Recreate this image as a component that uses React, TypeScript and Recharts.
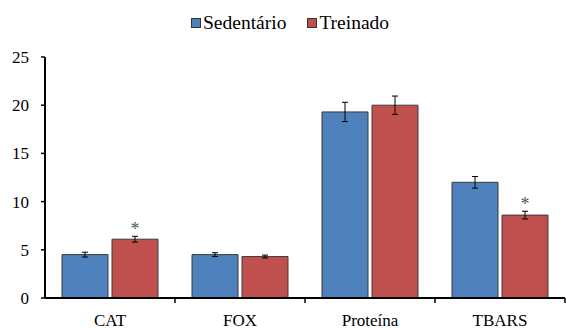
import { BarChart, Bar, XAxis, YAxis, ErrorBar, LabelList } from "recharts";

// values
const categories = ["CAT", "FOX", "Proteína", "TBARS"];
const sedentario = [4.5, 4.5, 19.3, 12.0];
const sedentarioErr = [0.25, 0.2, 1.0, 0.6];
const treinado = [6.1, 4.3, 20.0, 8.6];
const treinadoErr = [0.3, 0.15, 0.95, 0.4];
const significance = ["*", "", "", "*"];
const yTicks = [0, 5, 10, 15, 20, 25];

const BLUE = "#4F81BD";
const RED = "#C0504D";

const data = categories.map((name, i) => ({
  name,
  sedentario: sedentario[i],
  sedentarioErr: sedentarioErr[i],
  treinado: treinado[i],
  treinadoErr: treinadoErr[i],
  sig: significance[i],
}));

const CategoryTick = (props: any) => {
  const { x, y, payload } = props;
  const off = payload && payload.offset ? payload.offset : 65;
  return (
    <g>
      <text x={x} y={y + 28} textAnchor="middle" fontSize={17} fill="#000">
        {payload.value}
      </text>
      <line x1={x + off} y1={y} x2={x + off} y2={y + 5} stroke="#000" strokeWidth={1.5} />
    </g>
  );
};

const YTick = (props: any) => {
  const { x, y, payload } = props;
  return (
    <text x={x} y={y + 6} textAnchor="end" fontSize={17} fill="#000">
      {payload.value}
    </text>
  );
};

const StarLabel = (props: any) => {
  const { x, y, width, height, value, index } = props;
  if (!value) return null;
  const v = treinado[index];
  const pxPerUnit = v ? Math.abs(height) / v : 0;
  const errTop = y - treinadoErr[index] * pxPerUnit;
  return (
    <text x={x + width / 2} y={errTop - 1} textAnchor="middle" fontSize={18} fill="#555">
      {value}
    </text>
  );
};

const LegendItem = ({ color, label }: { color: string; label: string }) => (
  <span style={{ display: "inline-flex", alignItems: "center", marginRight: 21 }}>
    <span
      style={{
        display: "inline-block",
        width: 10,
        height: 10,
        background: color,
        border: "1px solid #333",
        boxSizing: "border-box",
        marginRight: 2,
      }}
    />
    <span>{label}</span>
  </span>
);

export default function App() {
  return (
    <div style={{ position: "absolute", left: 0, top: 0, width: 566, height: 329, background: "#fff" }}>
      <div
        style={{
          position: "absolute",
          left: 191,
          top: 8,
          fontSize: 19.5,
          lineHeight: "28px",
          whiteSpace: "nowrap",
          color: "#000",
        }}
      >
        <LegendItem color={BLUE} label="Sedentário" />
        <LegendItem color={RED} label="Treinado" />
      </div>
      <BarChart
        width={566}
        height={329}
        data={data}
        margin={{ top: 57, right: 1, left: 0, bottom: 0 }}
        barCategoryGap={17}
        barGap={4}
      >
        <XAxis
          dataKey="name"
          height={31}
          axisLine={{ stroke: "#000", strokeWidth: 2 }}
          tickLine={false}
          tickSize={0}
          tickMargin={0}
          tick={<CategoryTick />}
          interval={0}
        />
        <YAxis
          width={45}
          domain={[0, 25]}
          ticks={yTicks}
          interval={0}
          axisLine={{ stroke: "#000", strokeWidth: 2 }}
          tickLine={{ stroke: "#000", strokeWidth: 1.5 }}
          tickSize={4}
          tickMargin={12}
          tick={<YTick />}
        />
        <Bar dataKey="sedentario" name="Sedentário" fill={BLUE} stroke="#3a3a3a" strokeWidth={1} isAnimationActive={false}>
          <ErrorBar dataKey="sedentarioErr" width={3} stroke="#000" strokeWidth={1} direction="y" />
        </Bar>
        <Bar dataKey="treinado" name="Treinado" fill={RED} stroke="#3a3a3a" strokeWidth={1} isAnimationActive={false}>
          <ErrorBar dataKey="treinadoErr" width={3} stroke="#000" strokeWidth={1} direction="y" />
          <LabelList dataKey="sig" content={<StarLabel />} />
        </Bar>
      </BarChart>
    </div>
  );
}
